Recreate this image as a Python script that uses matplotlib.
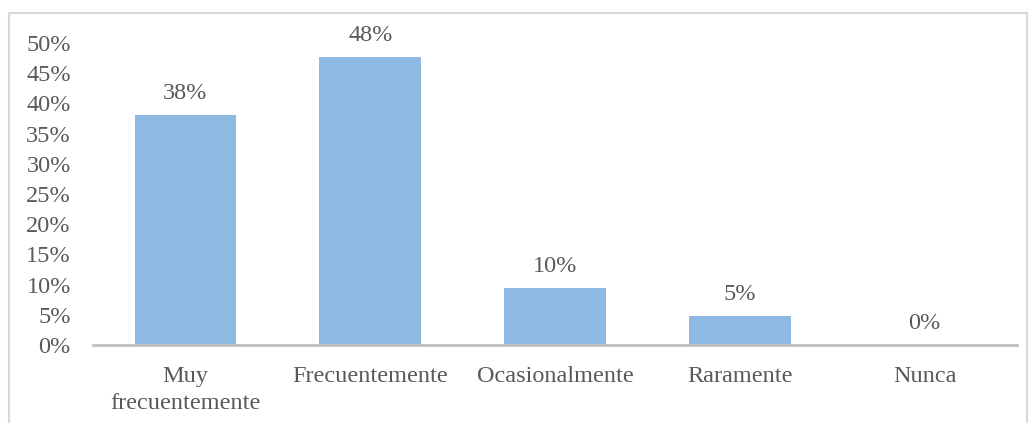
import numpy as np
import matplotlib.pyplot as plt
from matplotlib.patches import Rectangle

categorias = ['Muy\nfrecuentemente', 'Frecuentemente', 'Ocasionalmente', 'Raramente', 'Nunca']
valores = [38.1, 47.6, 9.5, 4.8, 0.0]
etiquetas = ['38%', '48%', '10%', '5%', '0%']
yticks = [0, 5, 10, 15, 20, 25, 30, 35, 40, 45, 50]

gris = '#595959'
fs = 17.5
plt.rcParams['font.family'] = ['Liberation Serif', 'DejaVu Serif']

fig = plt.figure(figsize=(10.34, 4.23), dpi=100)
ax = fig.add_axes([93/1034, 1-345/423, (1017-93)/1034, (345-43)/423])

x = np.arange(len(categorias))
ax.bar(x, valores, width=0.55, color='#8DB9E2', zorder=2)
for xi, v, t in zip(x, valores, etiquetas):
    ax.annotate(t, (xi, v), xytext=(0, 8), textcoords='offset points',
                ha='center', va='bottom', fontsize=fs, color=gris)

ax.set_xlim(-0.5, len(categorias)-0.5)
ax.set_ylim(0, 50)
ax.set_yticks(yticks)
ax.set_yticklabels(['%d%%' % t for t in yticks], fontsize=fs, color=gris)
ax.set_xticks(x)
ax.set_xticklabels(categorias, fontsize=fs, color=gris, linespacing=1.4)
ax.tick_params(axis='both', length=0)
ax.tick_params(axis='x', pad=15)
ax.tick_params(axis='y', pad=16)
for s in ['top', 'right', 'left']:
    ax.spines[s].set_visible(False)
ax.spines['bottom'].set_color('#BFBFBF')
ax.spines['bottom'].set_linewidth(2)
ax.spines['bottom'].set_zorder(3)

fig.patches.append(Rectangle((9/1034, -0.05), (1027-9)/1034, 1.05-13/423,
                             transform=fig.transFigure, fill=False,
                             edgecolor='#D9D9D9', linewidth=1.5))

fig.savefig('out.png', dpi=100)
